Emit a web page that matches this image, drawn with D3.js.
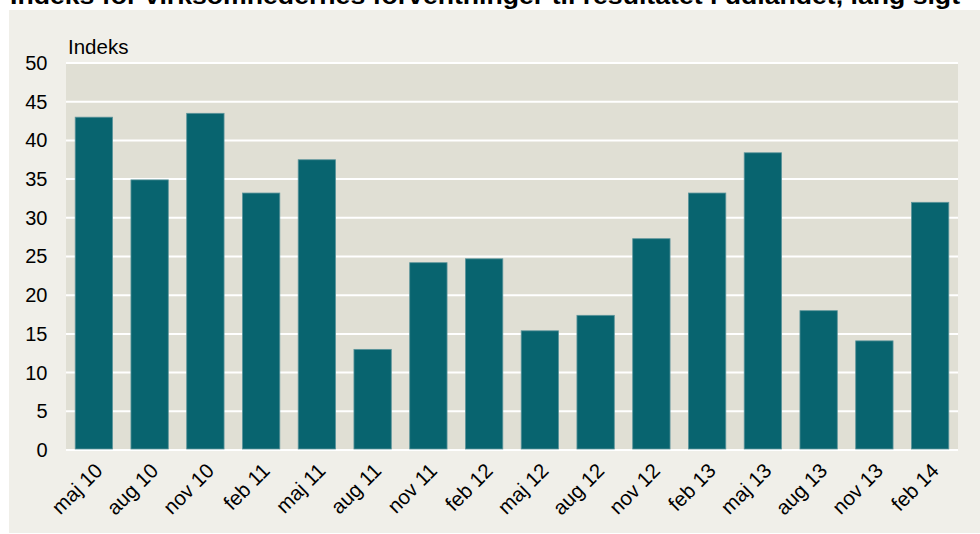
<!DOCTYPE html>
<html><head><meta charset="utf-8">
<script src="https://cdn.jsdelivr.net/npm/d3@7"></script>
<style>body{margin:0;background:#fff}svg{display:block}text{font-family:"Liberation Sans",Arial,sans-serif}</style>
</head><body>
<svg id="c" width="980" height="534"></svg>
<script>
const categories = ["maj 10","aug 10","nov 10","feb 11","maj 11","aug 11","nov 11","feb 12","maj 12","aug 12","nov 12","feb 13","maj 13","aug 13","nov 13","feb 14"];
const values = [43.0,34.9,43.5,33.2,37.5,13.0,24.2,24.7,15.4,17.4,27.3,33.2,38.4,18.0,14.1,32.0];
const yTicks = [0,5,10,15,20,25,30,35,40,45,50];
const title = "Indeks for virksomhedernes forventninger til resultatet i udlandet, lang sigt";
const yLabel = "Indeks";

const svg = d3.select("#c");
svg.append("rect").attr("x",9).attr("y",10).attr("width",971).attr("height",523).attr("fill","#f0efe9");
svg.append("text").attr("x",10).attr("y",4).attr("font-size",23).attr("font-weight","bold")
  .attr("textLength",950).attr("lengthAdjust","spacingAndGlyphs").attr("fill","#000").text(title);

const L=66,R=958,T=63,B=450;
const x = d3.scaleBand().domain(categories).range([L,R]).paddingInner(0.33).paddingOuter(0.165);
const y = d3.scaleLinear().domain([0,50]).range([B,T]);

svg.append("rect").attr("x",L).attr("y",T).attr("width",R-L).attr("height",B-T).attr("fill","#e0dfd4");
svg.append("g").selectAll("line").data(yTicks).join("line")
  .attr("x1",L).attr("x2",R).attr("y1",d=>y(d)).attr("y2",d=>y(d))
  .attr("stroke","#fff").attr("stroke-width",2);

svg.append("g").selectAll("rect").data(values).join("rect")
  .attr("x",(d,i)=>x(categories[i])).attr("width",x.bandwidth())
  .attr("y",d=>y(d)).attr("height",d=>y(0)-y(d)-1)
  .attr("fill","#08646f").attr("stroke","#5d959b").attr("stroke-width",0.8);

const yAxis = svg.append("g").attr("transform",`translate(${L},0)`)
  .call(d3.axisLeft(y).tickValues(yTicks).tickSize(0).tickPadding(18.5));
yAxis.select(".domain").remove();
yAxis.selectAll("text").attr("font-size",20).attr("fill","#000").attr("font-family","Liberation Sans, Arial, sans-serif");

const xAxis = svg.append("g").attr("transform",`translate(0,${B})`)
  .call(d3.axisBottom(x).tickSize(0).tickPadding(0));
xAxis.select(".domain").remove();
xAxis.selectAll("text").attr("font-size",20.5).attr("fill","#000").attr("font-family","Liberation Sans, Arial, sans-serif")
  .attr("text-anchor","end").attr("dy",0).attr("transform","translate(10,22) rotate(-45)");

svg.append("text").attr("x",68).attr("y",53.5).attr("font-size",20.5).attr("fill","#000").text(yLabel);
</script>
</body></html>
